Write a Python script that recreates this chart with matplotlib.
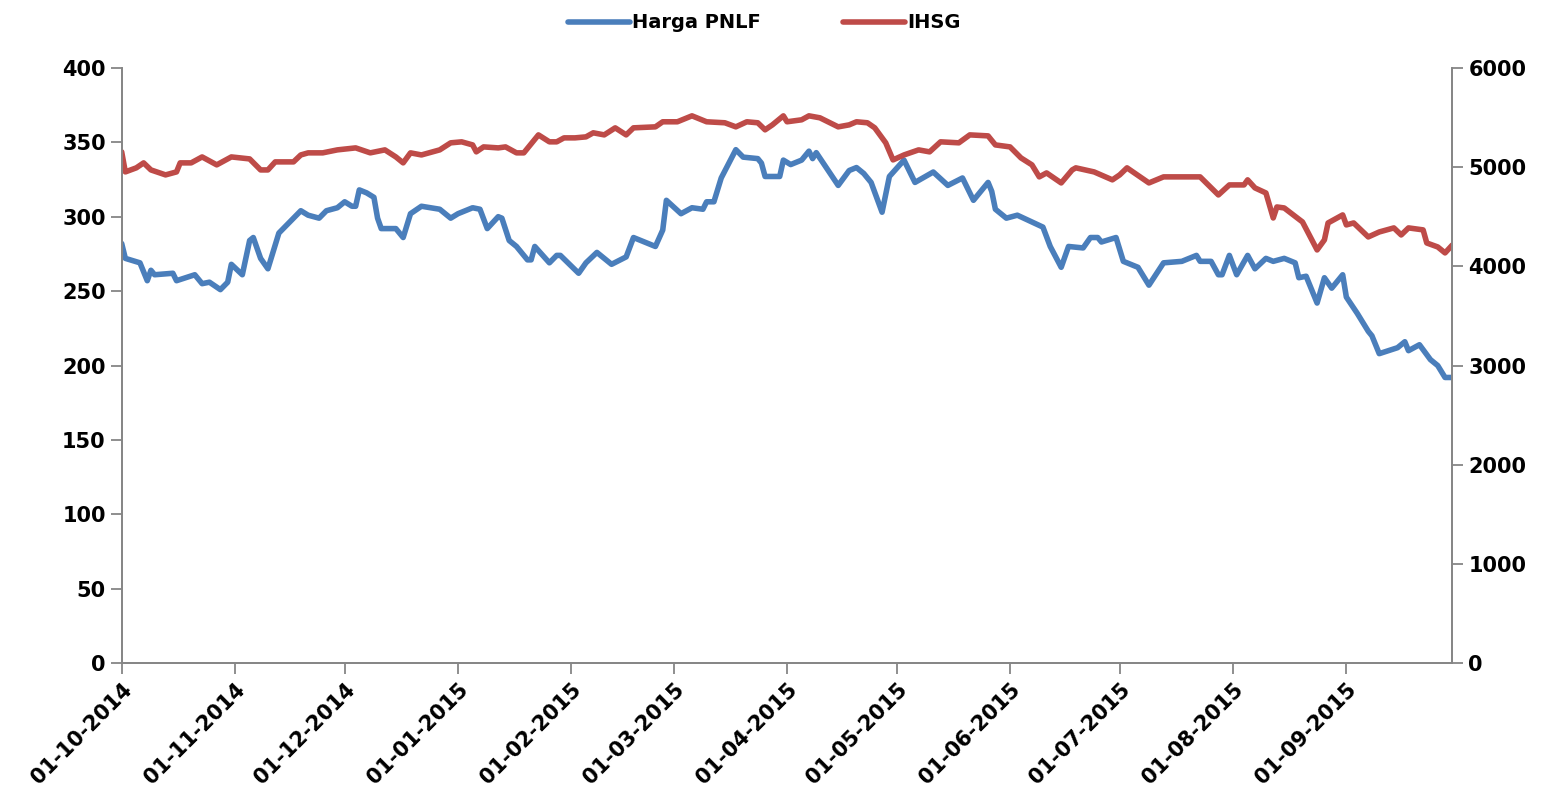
import pandas as pd
import matplotlib
matplotlib.use("Agg")
import matplotlib.pyplot as plt
import matplotlib.dates as mdates

# Harga PNLF (left axis)
pnlf_dates = [
    "2014-10-01", "2014-10-02", "2014-10-06", "2014-10-08", "2014-10-09", "2014-10-10",
    "2014-10-15", "2014-10-16", "2014-10-21", "2014-10-23", "2014-10-25", "2014-10-28",
    "2014-10-30", "2014-10-31", "2014-11-03", "2014-11-05", "2014-11-06", "2014-11-08",
    "2014-11-10", "2014-11-13", "2014-11-15", "2014-11-19", "2014-11-21", "2014-11-24",
    "2014-11-26", "2014-11-29", "2014-12-01", "2014-12-03", "2014-12-04", "2014-12-05",
    "2014-12-07", "2014-12-09", "2014-12-10", "2014-12-11", "2014-12-15", "2014-12-17",
    "2014-12-19", "2014-12-22", "2014-12-27", "2014-12-30", "2015-01-01", "2015-01-05",
    "2015-01-07", "2015-01-09", "2015-01-12", "2015-01-13", "2015-01-15", "2015-01-17",
    "2015-01-20", "2015-01-21", "2015-01-22", "2015-01-26", "2015-01-28", "2015-01-29",
    "2015-02-03", "2015-02-05", "2015-02-08", "2015-02-12", "2015-02-16", "2015-02-18",
    "2015-02-24", "2015-02-26", "2015-02-27", "2015-03-03", "2015-03-06", "2015-03-09",
    "2015-03-10", "2015-03-12", "2015-03-14", "2015-03-18", "2015-03-20", "2015-03-24",
    "2015-03-25", "2015-03-26", "2015-03-30", "2015-03-31", "2015-04-02", "2015-04-05",
    "2015-04-07", "2015-04-08", "2015-04-09", "2015-04-15", "2015-04-18", "2015-04-20",
    "2015-04-22", "2015-04-24", "2015-04-27", "2015-04-29", "2015-05-03", "2015-05-06",
    "2015-05-11", "2015-05-15", "2015-05-19", "2015-05-22", "2015-05-25", "2015-05-26",
    "2015-05-27", "2015-05-28", "2015-05-31", "2015-06-03", "2015-06-10", "2015-06-12",
    "2015-06-15", "2015-06-17", "2015-06-21", "2015-06-23", "2015-06-25", "2015-06-26",
    "2015-06-30", "2015-07-02", "2015-07-06", "2015-07-09", "2015-07-13", "2015-07-18",
    "2015-07-22", "2015-07-23", "2015-07-26", "2015-07-28", "2015-07-29", "2015-07-31",
    "2015-08-02", "2015-08-05", "2015-08-07", "2015-08-10", "2015-08-12", "2015-08-15",
    "2015-08-18", "2015-08-19", "2015-08-21", "2015-08-24", "2015-08-26", "2015-08-28",
    "2015-08-31", "2015-09-01", "2015-09-04", "2015-09-07", "2015-09-08", "2015-09-10",
    "2015-09-15", "2015-09-17", "2015-09-18", "2015-09-21", "2015-09-24", "2015-09-26",
    "2015-09-28", "2015-09-30",
]
pnlf_values = [
    282, 272, 269, 257, 264, 261,
    262, 257, 261, 255, 256, 251,
    256, 268, 261, 284, 286, 272,
    265, 289, 294, 304, 301, 299,
    304, 306, 310, 307, 307, 318,
    316, 313, 299, 292, 292, 286,
    302, 307, 305, 299, 302, 306,
    305, 292, 300, 299, 284, 280,
    271, 271, 280, 269, 274, 274,
    262, 269, 276, 268, 273, 286,
    280, 291, 311, 302, 306, 305,
    310, 310, 326, 345, 340, 339,
    336, 327, 327, 338, 335, 338,
    344, 339, 343, 321, 331, 333,
    329, 323, 303, 327, 338, 323,
    330, 321, 326, 311, 320, 323,
    317, 305, 299, 301, 293, 280,
    266, 280, 279, 286, 286, 283,
    286, 270, 266, 254, 269, 270,
    274, 270, 270, 261, 261, 274,
    261, 274, 265, 272, 270, 272,
    269, 259, 260, 242, 259, 252,
    261, 246, 235, 223, 220, 208,
    212, 216, 210, 214, 204, 200,
    192, 192,
]

# IHSG (right axis)
ihsg_dates = [
    "2014-10-01", "2014-10-02", "2014-10-05", "2014-10-07", "2014-10-09", "2014-10-13",
    "2014-10-16", "2014-10-17", "2014-10-20", "2014-10-23", "2014-10-27", "2014-10-31",
    "2014-11-05", "2014-11-08", "2014-11-10", "2014-11-12", "2014-11-17", "2014-11-19",
    "2014-11-21", "2014-11-25", "2014-11-29", "2014-12-04", "2014-12-08", "2014-12-12",
    "2014-12-15", "2014-12-17", "2014-12-19", "2014-12-22", "2014-12-27", "2014-12-30",
    "2015-01-02", "2015-01-05", "2015-01-06", "2015-01-08", "2015-01-12", "2015-01-14",
    "2015-01-17", "2015-01-19", "2015-01-23", "2015-01-26", "2015-01-28", "2015-01-30",
    "2015-02-02", "2015-02-05", "2015-02-07", "2015-02-10", "2015-02-13", "2015-02-16",
    "2015-02-18", "2015-02-24", "2015-02-26", "2015-03-02", "2015-03-06", "2015-03-10",
    "2015-03-15", "2015-03-18", "2015-03-21", "2015-03-24", "2015-03-26", "2015-03-28",
    "2015-03-31", "2015-04-01", "2015-04-05", "2015-04-07", "2015-04-10", "2015-04-15",
    "2015-04-18", "2015-04-20", "2015-04-23", "2015-04-25", "2015-04-28", "2015-04-30",
    "2015-05-03", "2015-05-07", "2015-05-10", "2015-05-13", "2015-05-18", "2015-05-21",
    "2015-05-26", "2015-05-28", "2015-06-01", "2015-06-04", "2015-06-07", "2015-06-09",
    "2015-06-11", "2015-06-15", "2015-06-18", "2015-06-19", "2015-06-24", "2015-06-29",
    "2015-07-01", "2015-07-03", "2015-07-09", "2015-07-13", "2015-07-23", "2015-07-28",
    "2015-07-31", "2015-08-04", "2015-08-05", "2015-08-07", "2015-08-10", "2015-08-12",
    "2015-08-13", "2015-08-15", "2015-08-20", "2015-08-24", "2015-08-26", "2015-08-27",
    "2015-08-31", "2015-09-01", "2015-09-03", "2015-09-07", "2015-09-10", "2015-09-14",
    "2015-09-16", "2015-09-18", "2015-09-22", "2015-09-23", "2015-09-26", "2015-09-28",
    "2015-09-30",
]
ihsg_values = [
    5153, 4951, 4992, 5042, 4971, 4921,
    4951, 5042, 5042, 5102, 5022, 5102,
    5082, 4971, 4971, 5052, 5052, 5122,
    5143, 5143, 5173, 5193, 5143, 5173,
    5102, 5042, 5143, 5122, 5173, 5244,
    5254, 5223, 5153, 5203, 5193, 5203,
    5143, 5143, 5324, 5254, 5254, 5294,
    5294, 5304, 5345, 5324, 5395, 5324,
    5395, 5405, 5456, 5456, 5516, 5456,
    5446, 5405, 5456, 5446, 5375, 5425,
    5516, 5456, 5476, 5516, 5496, 5405,
    5425, 5456, 5446, 5395, 5244, 5072,
    5122, 5173, 5153, 5254, 5244, 5324,
    5314, 5223, 5203, 5092, 5022, 4901,
    4941, 4840, 4971, 4992, 4951, 4871,
    4921, 4992, 4840, 4901, 4901, 4719,
    4820, 4820, 4871, 4790, 4739, 4487,
    4598, 4588, 4447, 4165, 4266, 4437,
    4518, 4417, 4437, 4296, 4346, 4387,
    4316, 4387, 4367, 4235, 4195, 4135,
    4215,
]

month_ticks = pd.date_range("2014-10-01", "2015-09-01", freq="MS")

plt.rcParams['font.family'] = ['DejaVu Sans']
plt.rcParams['font.weight'] = 'bold'

fig = plt.figure(figsize=(15.6, 8.07), dpi=100)
ax = fig.add_axes([0.078, 0.178, 0.853, 0.738])
ax2 = ax.twinx()

blue = '#4a7ebb'
red = '#be4b48'
grey = '#868686'

l1, = ax.plot(pd.to_datetime(pnlf_dates), pnlf_values, color=blue, lw=4,
              solid_joinstyle='round', solid_capstyle='round', label='Harga PNLF')
l2, = ax2.plot(pd.to_datetime(ihsg_dates), ihsg_values, color=red, lw=4,
               solid_joinstyle='round', solid_capstyle='round', label='IHSG')

ax.set_xlim(pd.Timestamp("2014-10-01"), pd.Timestamp("2015-09-30"))
ax.set_ylim(0, 400)
ax2.set_ylim(0, 6000)
ax.set_yticks(range(0, 401, 50))
ax2.set_yticks(range(0, 6001, 1000))

ax.set_xticks(month_ticks)
ax.set_xticklabels([d.strftime("%d-%m-%Y") for d in month_ticks],
                   rotation=45, ha='right', rotation_mode='anchor')

for a in (ax, ax2):
    a.spines['top'].set_visible(False)
    for s in ('left', 'right', 'bottom'):
        a.spines[s].set_color(grey)
        a.spines[s].set_linewidth(1.3)
    a.tick_params(colors=grey, labelcolor='black', width=1.3, length=8,
                  labelsize=15, direction='out')

fig.legend(handles=[l1, l2], loc='upper center', bbox_to_anchor=(0.49, 1.005),
           ncol=2, frameon=False, fontsize=14, handlelength=3.2,
           handletextpad=0.1, columnspacing=4.2)

fig.savefig("out.png", dpi=100)
